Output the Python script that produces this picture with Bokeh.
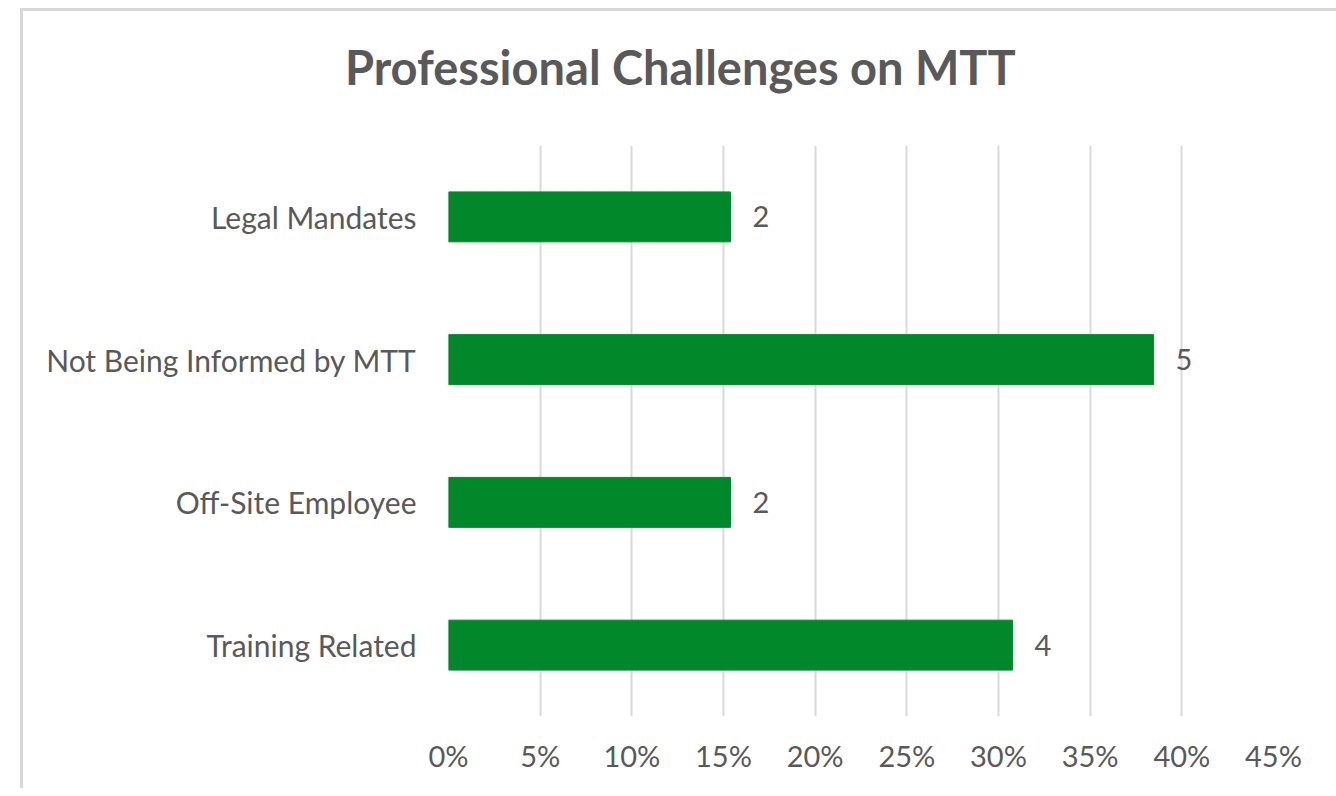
from bokeh.plotting import figure
from bokeh.layouts import column
from bokeh.models import ColumnDataSource, FactorRange, FixedTicker, NumeralTickFormatter, LabelSet, Range1d, Div
from bokeh.core.properties import value
from bokeh.embed import file_html
from bokeh.resources import INLINE

title_text = "Professional Challenges on MTT"
categories = ["Legal Mandates", "Not Being Informed by MTT", "Off-Site Employee", "Training Related"]
counts = [2, 5, 2, 4]
shares = [0.1538, 0.3846, 0.1538, 0.3077]
x_ticks = [0.0, 0.05, 0.10, 0.15, 0.20, 0.25, 0.30, 0.35, 0.40, 0.45]

FONT = "Lato"
TEXT = "#595959"

src = ColumnDataSource(dict(cat=categories, share=shares, label=[str(c) for c in counts]))

title_div = Div(
    width=1305, height=124,
    text=('<div style="padding:23px 0 0 317px; font-family:Lato; font-size:47px; font-weight:bold; '
          'line-height:normal; color:%s; white-space:nowrap;">%s</div>' % (TEXT, title_text)),
)

p = figure(
    width=1305, height=643,
    y_range=FactorRange(factors=list(reversed(categories))),
    x_range=Range1d(0, 0.45),
    output_backend="svg", toolbar_location=None,
    min_border_left=425, min_border_right=55, min_border_top=0, min_border_bottom=72,
)

p.hbar(y="cat", right="share", height=0.35, source=src, fill_color="#00882b", line_color="#00882b")

labels = LabelSet(x="share", y="cat", text="label", source=src, x_offset=22, text_baseline="middle",
                  text_font=value(FONT), text_font_size="29px", text_color=TEXT)
p.add_layout(labels)

p.outline_line_color = None
p.ygrid.grid_line_color = None
p.xgrid.grid_line_color = "#d9d9d9"
p.xgrid.grid_line_width = 2
p.xaxis.ticker = FixedTicker(ticks=x_ticks)
p.xaxis.formatter = NumeralTickFormatter(format="0%")

for ax in (p.xaxis, p.yaxis):
    ax.axis_line_color = None
    ax.major_tick_line_color = None
    ax.minor_tick_line_color = None
    ax.major_label_text_font = FONT
    ax.major_label_text_color = TEXT
p.xaxis.major_label_text_font_size = "29px"
p.yaxis.major_label_text_font_size = "30px"
p.xaxis.major_label_standoff = 15
p.yaxis.major_label_standoff = 26

layout = column(title_div, p, spacing=0)
layout.styles = {"margin-left": "20px", "margin-top": "8px",
                 "border-left": "3px solid #d9d9d9", "border-top": "3px solid #d9d9d9"}

open("out.html", "w").write(file_html(layout, INLINE))
